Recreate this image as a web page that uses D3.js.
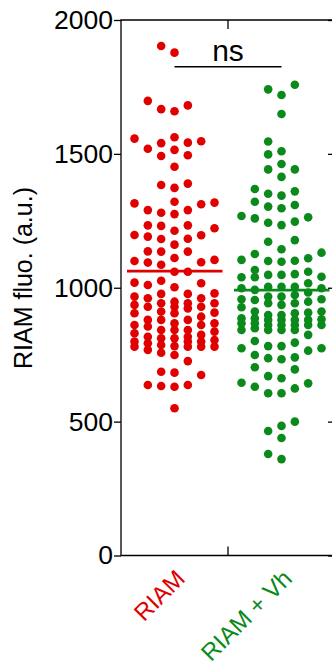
<!DOCTYPE html>
<html>
<head>
<meta charset="utf-8">
<script src="https://cdn.jsdelivr.net/npm/d3@7"></script>
<style>
body{margin:0;background:#fff;}
text{font-family:Arial,"Liberation Sans",Helvetica,sans-serif;}
</style>
</head>
<body>
<div id="chart"></div>
<script>
// groups and colours
const groups=["RIAM","RIAM + Vh"];
const groupColors=["#e00000","#0b8a1c"];

// RIAM fluorescence per cell (a.u.)
const riam=[1903,1878,1698,1681,1667,1659,1562,1557,1547,1542,1540,1519,1515,1495,1492,1452,1389,1384,1373,
1321,1318,1315,1312,1290,1290,1280,1275,1233,1233,1231,1222,1213,1197,1196,1191,1183,1182,1161,1136,1135,1135,
1111,1104,1100,1095,1094,1086,
1026,977,942,907,867,842,811,780,683,
1017,961,929,905,861,817,793,768,637,
1002,948,929,880,855,817,799,780,749,633,
1060,979,942,923,880,842,824,799,780,726,630,
1060,1010,961,929,892,861,830,805,786,757,637,
1019,967,936,905,867,836,799,780,674,
977,942,911,880,842,811,782,686,
550];

const riamVh=[1758,1741,1720,1649,1546,1510,1498,1462,1442,1442,1414,1369,1360,1351,1344,1321,1309,1303,1297,
1268,1263,1259,1247,1243,1234,1178,1172,1144,1131,1126,1110,1104,1101,1100,1097,
1041,992,957,911,880,861,782,645,
1060,1017,982,948,907,880,861,842,774,733,630,
1048,1004,967,942,898,880,861,842,801,749,695,606,
1048,1004,967,936,898,880,861,842,782,737,670,606,
1051,1004,973,942,905,882,867,842,795,740,703,624,
1066,1039,998,954,911,886,861,824,765,643,
1039,998,957,927,886,867,849,774,662,
500,484,465,439,379,360];

const means=[1062,991];
const yTicks=[0,500,1000,1500,2000];
const yLabel="RIAM fluo. (a.u.)";
const sigLabel="ns";
const sigLevel=1825;

const width=332,height=667;
const pLeft=121,pRight=335,pTop=20,pBottom=555.5;

const svg=d3.select("#chart").append("svg").attr("width",width).attr("height",height);

const y=d3.scaleLinear().domain([0,2000]).range([pBottom,pTop]);
const x=d3.scaleBand().domain(groups).range([pLeft,pRight]).padding(0);
const slot=d3.scaleLinear().domain([-3,3]).range([-40,40]);

// prism-like column scatter: each point goes to the first free column, centre out
function swarm(values,gap){
  const order=[0,-1,1,-2,2,-3,3];
  const placed=order.map(()=>[]);
  return values.slice().sort((a,b)=>a-b).map(v=>{
    const py=y(v);
    let best=0,bestDist=-1;
    for(let i=0;i<order.length;i++){
      const m=d3.min(placed[i],q=>Math.abs(q-py));
      const dd=m===undefined?Infinity:m;
      if(dd>=gap){best=i;break;}
      if(dd>bestDist){best=i;bestDist=dd;}
    }
    placed[best].push(py);
    return {value:v,slot:order[best]};
  });
}

const series=[riam,riamVh];
series.forEach((vals,gi)=>{
  const cx=x(groups[gi])+x.bandwidth()/2;
  svg.append("g").selectAll("circle")
    .data(swarm(vals,12))
    .enter().append("circle")
    .attr("cx",d=>cx+slot(d.slot))
    .attr("cy",d=>y(d.value))
    .attr("r",4.3)
    .style("fill",groupColors[gi]);
  svg.append("line")
    .attr("x1",cx-47.5).attr("x2",cx+48)
    .attr("y1",y(means[gi])).attr("y2",y(means[gi]))
    .attr("stroke",groupColors[gi]).attr("stroke-width",2.6);
});

// frame
svg.append("path")
  .attr("d","M"+pLeft+","+pTop+"H"+pRight+"V"+pBottom+"H"+pLeft+"Z")
  .attr("fill","none").attr("stroke","#000").attr("stroke-width",1.3);

// left axis
const yAxis=svg.append("g").attr("transform","translate("+pLeft+",0)")
  .call(d3.axisLeft(y).tickValues(yTicks).tickSize(7).tickSizeOuter(0).tickPadding(1).tickFormat(d3.format("d")));
yAxis.select(".domain").remove();
yAxis.selectAll("line").attr("stroke-width",1.3);
yAxis.selectAll("text").attr("font-size",26.5).attr("fill","#000")
  .style("font-family","Arial, 'Liberation Sans', sans-serif");

// right axis, ticks inward
const yAxisR=svg.append("g").attr("transform","translate("+pRight+",0)")
  .call(d3.axisLeft(y).tickValues(yTicks).tickSize(7).tickSizeOuter(0).tickFormat(""));
yAxisR.select(".domain").remove();
yAxisR.selectAll("line").attr("stroke-width",1.3);

// group divider ticks top and bottom
const xb=x(groups[1]);
svg.append("line").attr("x1",xb).attr("x2",xb).attr("y1",pTop).attr("y2",pTop+9).attr("stroke","#000").attr("stroke-width",1.3);
svg.append("line").attr("x1",xb).attr("x2",xb).attr("y1",pBottom).attr("y2",pBottom-9).attr("stroke","#000").attr("stroke-width",1.3);

// category labels
groups.forEach((g,i)=>{
  const cx=x(g)+x.bandwidth()/2+12;
  svg.append("text")
    .attr("transform","translate("+cx+",580) rotate(-45)")
    .attr("text-anchor","end")
    .attr("font-size",24)
    .attr("fill",groupColors[i])
    .text(g);
});

// y label
svg.append("text")
  .attr("transform","translate(32,278) rotate(-90)")
  .attr("text-anchor","middle")
  .attr("font-size",25)
  .text(yLabel);

// significance bar
const c0=x(groups[0])+x.bandwidth()/2, c1=x(groups[1])+x.bandwidth()/2;
svg.append("line").attr("x1",c0).attr("x2",c1)
  .attr("y1",y(sigLevel)).attr("y2",y(sigLevel))
  .attr("stroke","#000").attr("stroke-width",1.5);
svg.append("text")
  .attr("x",(c0+c1)/2).attr("y",y(sigLevel)-6)
  .attr("text-anchor","middle").attr("font-size",30)
  .text(sigLabel);
</script>
</body>
</html>
